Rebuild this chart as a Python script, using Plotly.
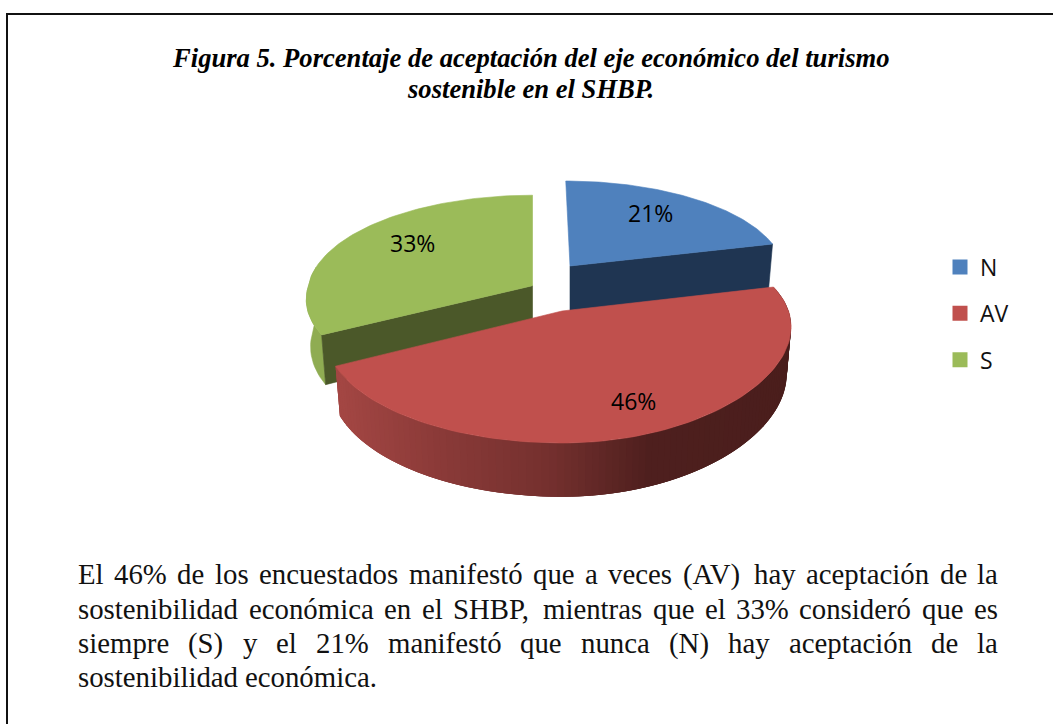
import math
import plotly.graph_objects as go

# ---- data ----
categories = ["N", "AV", "S"]
values = [21, 46, 33]
top_colors = ["#4F81BD", "#C0504D", "#9BBB59"]
cut_colors = ["#1F3552", "#4B1F1D", "#4B5829"]

title_lines = [
    "Figura 5. Porcentaje de aceptación del eje económico del turismo",
    "sostenible en el SHBP.",
]
body_lines = [
    "El 46% de los encuestados manifestó que a veces (AV) hay aceptación de la",
    "sostenibilidad económica en el SHBP, mientras que el 33% consideró que es",
    "siempre (S) y el 21% manifestó que nunca (N) hay aceptación de la",
    "sostenibilidad económica.",
]

# ---- pseudo-3D projection of each exploded slice (pixel axes) ----
PROJ = {
    "N":  dict(ax=570.0, ay=266.0, A=213.0, B=89.5, k=0.053, s=0.05, Ar=213.0, kr=0.053, s2=0.05),
    "AV": dict(ax=562.0, ay=311.0, A=230.0, B=101.9, k=0.228, s=0.0, Ar=226.5, kr=0.15, s2=0.0),
    "S":  dict(ax=532.5, ay=285.7, A=224.0, B=98.0, k=0.083, s=0.0, Ar=224.0, kr=0.083, s2=-0.13),
}
H0, HM, SHRINK = 46.0, 0.17, 0.019


def rim(cat, deg):
    p = PROJ[cat]
    t = math.radians(deg)
    c, n = math.cos(t), math.sin(t)
    w = 1 / (1 + p["k"] * c)
    dy = -p["B"] * c * w
    if n >= 0:
        xr = p["Ar"] * n / (1 + p["kr"] * c)
    else:
        xr = p["A"] * n * w
    shear = p["s"] * dy if dy < 0 else p["s2"] * dy
    return p["ax"] + xr + shear, p["ay"] + dy


def lower(cat, deg):
    p = PROJ[cat]
    x, y = rim(cat, deg)
    c = math.cos(math.radians(deg))
    return p["ax"] + (x - p["ax"]) * (1 - SHRINK), y + H0 * (1 - HM * c)


def apex_lower(cat):
    p = PROJ[cat]
    return p["ax"], p["ay"] + H0


def arange(a, b, n):
    return [a + (b - a) * i / n for i in range(n + 1)]


def poly(xs, ys, color, lw=0.6):
    return go.Scatter(x=xs + xs[:1], y=ys + ys[:1], mode="lines", fill="toself",
                      fillcolor=color, line=dict(color=color, width=lw),
                      hoverinfo="skip", showlegend=False)


def mix(x):
    stops = [(340, (163, 70, 67)), (440, (138, 58, 56)), (550, (116, 48, 46)),
             (650, (78, 31, 30)), (800, (74, 30, 28))]
    for (x0, c0), (x1, c1) in zip(stops, stops[1:]):
        if x <= x1:
            f = max(0, (x - x0) / (x1 - x0))
            return "rgb(%d,%d,%d)" % tuple(round(a + (b - a) * f) for a, b in zip(c0, c1))
    return "rgb(74,30,28)"


total = sum(values)
bounds = {}
acc = 0
for cat, v in zip(categories, values):
    bounds[cat] = (acc * 360 / total, (acc + v) * 360 / total)
    acc += v

fig = go.Figure()


def cut_face(cat, deg, color):
    p = PROJ[cat]
    x, y = rim(cat, deg)
    xb, yb = lower(cat, deg)
    ax, ayb = apex_lower(cat)
    fig.add_trace(poly([p["ax"], x, xb, ax], [p["ay"], y, yb, ayb], color))


def top_face(cat, color):
    p = PROJ[cat]
    a, b = bounds[cat]
    th = arange(a, b, 90)
    pts = [rim(cat, t) for t in th]
    fig.add_trace(poly([p["ax"]] + [q[0] for q in pts], [p["ay"]] + [q[1] for q in pts], color))


# N slice
cut_face("N", bounds["N"][1], cut_colors[0])
top_face("N", top_colors[0])

# S slice: outer wall, cut face, top
a, b = bounds["S"]
wall = arange(a, a + 40, 20)
up = [rim("S", t) for t in wall]
dn = [lower("S", t) for t in wall][::-1]
fig.add_trace(poly([q[0] for q in up + dn], [q[1] for q in up + dn], "#8FAC52"))
cut_face("S", a, cut_colors[2])
top_face("S", top_colors[2])

# AV slice: shaded outer wall, drawn right-to-left in overlapping strips, then top
a, b = bounds["AV"]
th = arange(a, b, 110)
for i in range(len(th) - 1):
    t0, t1 = th[i], th[min(i + 3, len(th) - 1)]
    tm = rim("AV", (th[i] + th[i + 1]) / 2)
    strip = [t0 + (t1 - t0) * j / 6 for j in range(7)]
    ups = [rim("AV", t) for t in strip]
    dns = [lower("AV", t) for t in strip][::-1]
    fig.add_trace(poly([u[0] for u in ups + dns], [u[1] for u in ups + dns], mix(tm[0]), lw=0))
top_face("AV", top_colors[1])

# legend entries
for i, (cat, col) in enumerate(zip(categories, top_colors)):
    fig.add_trace(go.Scatter(x=[None], y=[None], mode="markers", name=cat, legendgroup=cat,
                             marker=dict(symbol="square", size=15, color=col)))

# ---- text ----
TIMES = dict(zip("abcdefghijklmnopqrstuvwxyz",
                 [.444, .5, .444, .5, .444, .333, .5, .5, .278, .278, .5, .278, .778, .5, .5, .5,
                  .5, .333, .389, .278, .5, .5, .722, .5, .5, .444]))
TIMES.update({"á": .444, "é": .444, "í": .278, "ó": .5, "ú": .5, "%": .833, "(": .333, ")": .333,
              ",": .25, ".": .25, "A": .722, "V": .722, "E": .611, "S": .556, "H": .722,
              "B": .667, "P": .556, "N": .722})
for d in "0123456789":
    TIMES[d] = .5
BODY_SIZE = 28.8
LEFT, RIGHT = 76.0, 996.0
BODY_Y = [574, 609, 643, 677]


def width(word):
    return sum(TIMES[c] for c in word) * BODY_SIZE


ann = []
for li, (line, y) in enumerate(zip(body_lines, BODY_Y)):
    words = line.split(" ")
    last = li == len(body_lines) - 1
    gap = .25 * BODY_SIZE if last else (RIGHT - LEFT - sum(map(width, words))) / (len(words) - 1)
    x = LEFT
    for w in words:
        ann.append(dict(x=x, y=y, text=w, xanchor="left", yanchor="middle", showarrow=False,
                        font=dict(family="Liberation Serif", size=BODY_SIZE, color="#111111")))
        x += width(w) + gap

for line, y in zip(title_lines, [58, 89]):
    ann.append(dict(x=530.5, y=y, text="<b><i>%s</i></b>" % line, showarrow=False, xanchor="center",
                    yanchor="middle", font=dict(family="Liberation Serif", size=26.6, color="#000000")))

LABEL_POS = {"N": (650, 213), "AV": (633, 401), "S": (412, 243)}
for cat, v in zip(categories, values):
    lx, ly = LABEL_POS[cat]
    ann.append(dict(x=lx, y=ly, text="%d%%" % v, showarrow=False, xanchor="center", yanchor="middle",
                    font=dict(family="Open Sans", size=23, color="#000000")))

fig.update_layout(
    width=1053, height=724, margin=dict(l=0, r=0, t=0, b=0),
    paper_bgcolor="white", plot_bgcolor="white",
    xaxis=dict(range=[0, 1053], visible=False, fixedrange=True),
    yaxis=dict(range=[724, 0], visible=False, fixedrange=True),
    annotations=ann,
    showlegend=True,
    legend=dict(x=940 / 1053, y=1 - 245.5 / 724, xanchor="left", yanchor="top",
                tracegroupgap=13.5, itemsizing="trace", itemwidth=30,
                font=dict(family="Open Sans", size=23, color="#111111"),
                bgcolor="rgba(0,0,0,0)", borderwidth=0),
    shapes=[
        dict(type="line", x0=6, x1=1053, y0=14, y1=14, line=dict(color="#111111", width=2)),
        dict(type="line", x0=7, x1=7, y0=13, y1=724, line=dict(color="#111111", width=2)),
    ],
)
fig.write_html("out.html", config={"displayModeBar": False},
               post_script="document.body.style.margin='0';document.body.style.overflow='hidden';")
